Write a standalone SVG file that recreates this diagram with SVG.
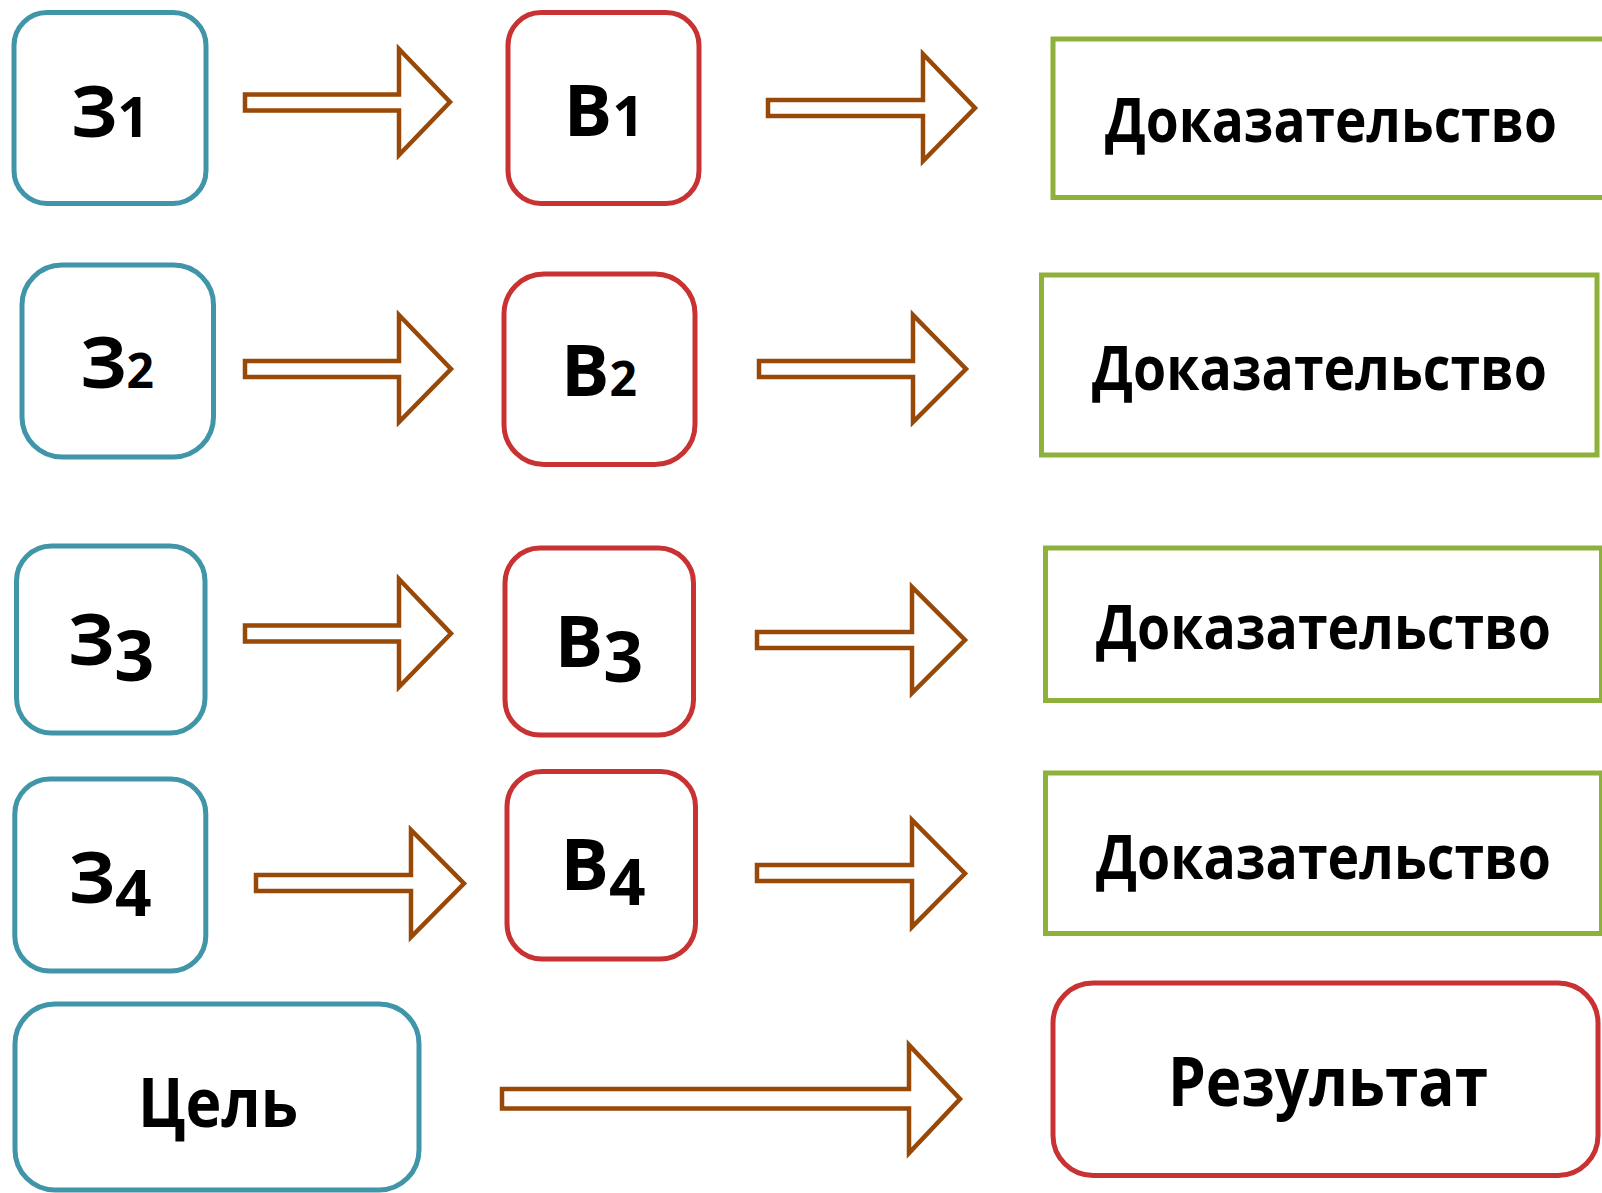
<svg xmlns="http://www.w3.org/2000/svg" width="1602" height="1193" viewBox="0 0 1602 1193">
<style>
.z{fill:#fff;stroke:#4095A9;stroke-width:5}
.b{fill:#fff;stroke:#C83232;stroke-width:5}
.d{fill:#fff;stroke:#8DB13B;stroke-width:5}
.a{fill:#fff;stroke:#984807;stroke-width:4.5;stroke-linejoin:miter}
text{font-family:"Open Sans","Noto Sans","DejaVu Sans",sans-serif;font-weight:bold;fill:#000;text-anchor:middle}
.n{font-size:72px}
.t{font-size:60px}
.g{font-size:68px}
</style>
<rect width="1602" height="1193" fill="#fff"/>
<g id="connectors">
<path class="a" d="M245,94.5 H399 V49 L450,102 L399,155 V110.5 H245 Z"/>
<path class="a" d="M768,100 H923 V54 L975,108 L923,161 V116 H768 Z"/>
<path class="a" d="M245,361 H399 V315 L451,369 L399,422 V377 H245 Z"/>
<path class="a" d="M759,361 H913 V315 L966,369 L913,422 V377 H759 Z"/>
<path class="a" d="M245,625.5 H399 V579 L451,633.5 L399,687 V641.5 H245 Z"/>
<path class="a" d="M757,632 H912 V587 L965,640 L912,693 V648 H757 Z"/>
<path class="a" d="M256,875 H411 V830 L464,883.5 L411,937 V891 H256 Z"/>
<path class="a" d="M757,865 H912 V820 L965,873.5 L912,927 V881 H757 Z"/>
<path class="a" d="M502,1089 H909 V1045 L960,1099 L909,1153 V1108.5 H502 Z"/>
</g>
<g id="z1"><rect class="z" x="14" y="12.5" width="192" height="191" rx="33"/><text class="n" x="110" y="137">З<tspan font-size="56">1</tspan></text></g>
<g id="b1"><rect class="b" x="508" y="12.5" width="191" height="191" rx="33"/><text class="n" x="604" y="136">В<tspan font-size="56">1</tspan></text></g>
<g id="d1"><path class="d" d="M1602,39 H1053 V197.5 H1602"/><text class="t" x="1331" y="142" textLength="452" lengthAdjust="spacingAndGlyphs">Доказательство</text></g>
<g id="z2"><rect class="z" x="22" y="265" width="191.5" height="192" rx="40"/><text class="n" x="117" y="388">З<tspan font-size="48">2</tspan></text></g>
<g id="b2"><rect class="b" x="504" y="274" width="191" height="190.5" rx="40"/><text class="n" x="599" y="396">В<tspan font-size="48">2</tspan></text></g>
<g id="d2"><rect class="d" x="1041.5" y="275" width="555.5" height="180"/><text class="t" x="1319.5" y="390" textLength="455" lengthAdjust="spacingAndGlyphs">Доказательство</text></g>
<g id="z3"><rect class="z" x="16.5" y="546" width="188.5" height="187" rx="35"/><text class="n" x="111" y="665">З<tspan dy="16" font-size="70">3</tspan></text></g>
<g id="b3"><rect class="b" x="505" y="548" width="188.5" height="187" rx="35"/><text class="n" x="599" y="667">В<tspan dy="15" font-size="70">3</tspan></text></g>
<g id="d3"><rect class="d" x="1045.5" y="548" width="556" height="152.5"/><text class="t" x="1323.5" y="649" textLength="455" lengthAdjust="spacingAndGlyphs">Доказательство</text></g>
<g id="z4"><rect class="z" x="14.8" y="779" width="191" height="192" rx="35"/><text class="n" x="110" y="902.7">З<tspan dy="13" font-size="64">4</tspan></text></g>
<g id="b4"><rect class="b" x="507" y="771.5" width="188.5" height="187.5" rx="35"/><text class="n" x="603" y="890">В<tspan dy="15" font-size="64">4</tspan></text></g>
<g id="d4"><rect class="d" x="1045.5" y="773" width="556" height="160.5"/><text class="t" x="1323.5" y="879" textLength="455" lengthAdjust="spacingAndGlyphs">Доказательство</text></g>
<g id="goal"><rect class="z" x="15" y="1004" width="404" height="186" rx="40"/><text class="g" x="218" y="1127" textLength="160" lengthAdjust="spacingAndGlyphs">Цель</text></g>
<g id="result"><rect class="b" x="1053" y="983" width="545" height="192.5" rx="40"/><text class="g" x="1328" y="1106" textLength="320" lengthAdjust="spacingAndGlyphs">Результат</text></g>
</svg>
